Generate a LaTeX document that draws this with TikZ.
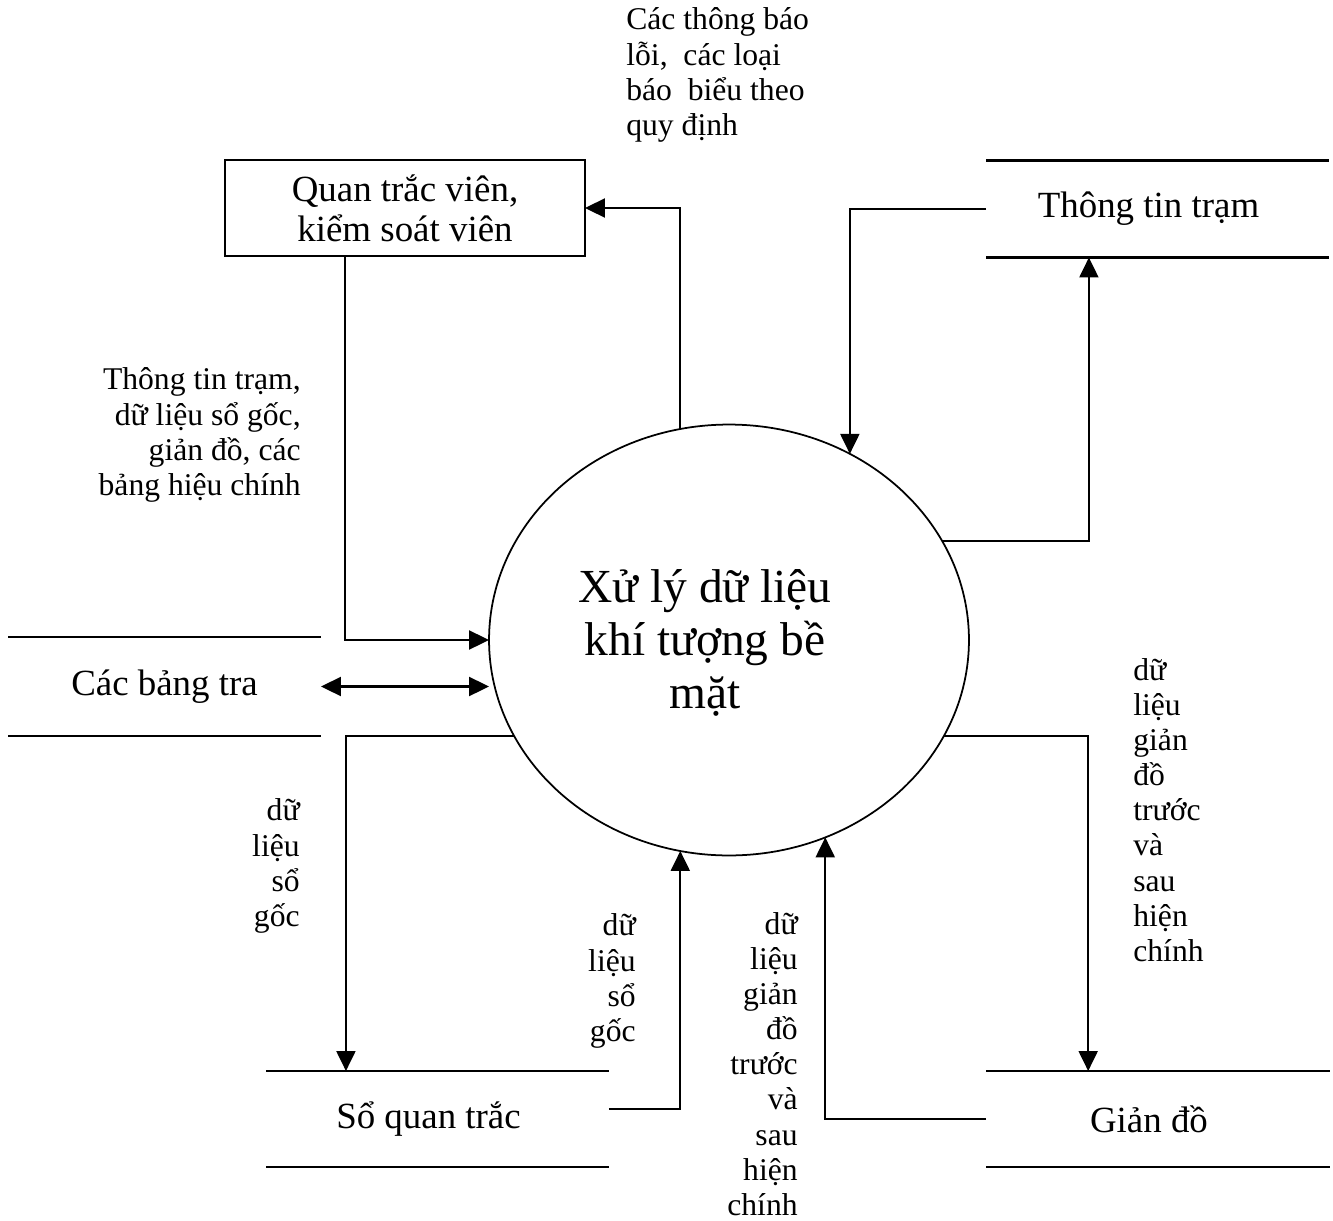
\documentclass[tikz,border=0pt]{standalone}
\usepackage{fontspec}
\setmainfont{Liberation Serif}
\usetikzlibrary{shapes.geometric, arrows.meta, calc}

\newcommand{\bigfont}{\fontsize{27}{30}\selectfont}
\newcommand{\midfont}{\fontsize{21}{22.7}\selectfont}
\newcommand{\smallfont}{\fontsize{18}{20}\selectfont}

\begin{document}
\begin{tikzpicture}[x=0.02cm, y=-0.02cm,
    >={Triangle[length=0.4cm, width=0.38cm]},
    flow/.style={line width=1.2pt, ->},
    store/.style={inner sep=0pt, outer sep=0pt, minimum height=1.94cm, font=\midfont},
    storepad/.style={execute at end node=\hspace*{0.36cm}},
    storeline/.style={line width=1.5pt},
    note/.style={font=\smallfont, inner sep=0pt}]
  \useasboundingbox (0,0) rectangle (1333,1221);

  % process
  \node[draw, ellipse, line width=1pt, inner sep=0pt, outer sep=0pt,
        minimum width=9.6cm, minimum height=8.62cm,
        label={[font=\bigfont, align=center, xshift=-0.48cm, yshift=-0.06cm]center:{Xử lý dữ liệu\\khí tượng bề\\mặt}}] (proc) at (729,640) {};

  % external entity
  \node[draw, line width=1.2pt, inner sep=0pt, outer sep=0pt,
        minimum width=7.2cm, minimum height=1.92cm, align=center, font=\midfont] (qtv) at (405,208)
        {Quan trắc viên,\\kiểm soát viên};

  % data stores
  \node[store, storepad, minimum width=6.86cm] (tram) at (1157.5,209) {Thông tin trạm};
  \node[store, minimum width=6.26cm, minimum height=1.98cm] (bang) at (164.5,686.5) {Các bảng tra};
  \node[store, storepad, minimum width=6.86cm, minimum height=1.92cm] (so) at (437.5,1119) {Sổ quan trắc};
  \node[store, storepad, minimum width=6.88cm, minimum height=1.92cm] (gian) at (1158,1119) {Giản đồ};
  \foreach \s in {tram, bang, so, gian}
    \draw[storeline] (\s.north west) -- (\s.north east) (\s.south west) -- (\s.south east);

  % flows
  \draw[flow] (proc.103) |- (qtv.east);
  \draw[flow] (tram.west) -| (proc.57);
  \draw[flow] (proc.25) -| ($(tram.south west)!0.3!(tram.south east)$);
  \draw[flow] ($(qtv.south west)!0.333!(qtv.south east)$) |- (proc.west);
  \draw[flow, <->] (bang.east) -- (bang.east -| proc.west);
  \draw[flow] (proc.204) -| ($(so.north west)!0.233!(so.north east)$);
  \draw[flow] ($(so.north east)!0.396!(so.south east)$) -| (proc.257);
  \draw[flow] (gian.west) -| (proc.296);
  \draw[flow] (proc.336) -| ($(gian.north west)!0.297!(gian.north east)$);

  % flow labels
  \node[note, anchor=west, align=left] (errlbl) at (626,75)
        {Các thông báo\\lỗi,\ \ các loại\\báo\ \ biểu theo\\quy định};
  \node[note, anchor=east, align=right] (inlbl) at (301,435)
        {Thông tin trạm,\\dữ liệu sổ gốc,\\giản đồ, các\\bảng hiệu chính};
  \node[note, anchor=east, align=right] (solbla) at (300,866) {dữ\\liệu\\sổ\\gốc};
  \node[note, anchor=east, align=right] (solblb) at (636,981) {dữ\\liệu\\sổ\\gốc};
  \node[note, anchor=west, align=left] (gdlbla) at (1133,810)
        {dữ\\liệu\\giản\\đồ\\trước\\và\\sau\\hiện\\chính};
  \node[note, anchor=east, align=right] (gdlblb) at (798,1064)
        {dữ\\liệu\\giản\\đồ\\trước\\và\\sau\\hiện\\chính};
\end{tikzpicture}
\end{document}
